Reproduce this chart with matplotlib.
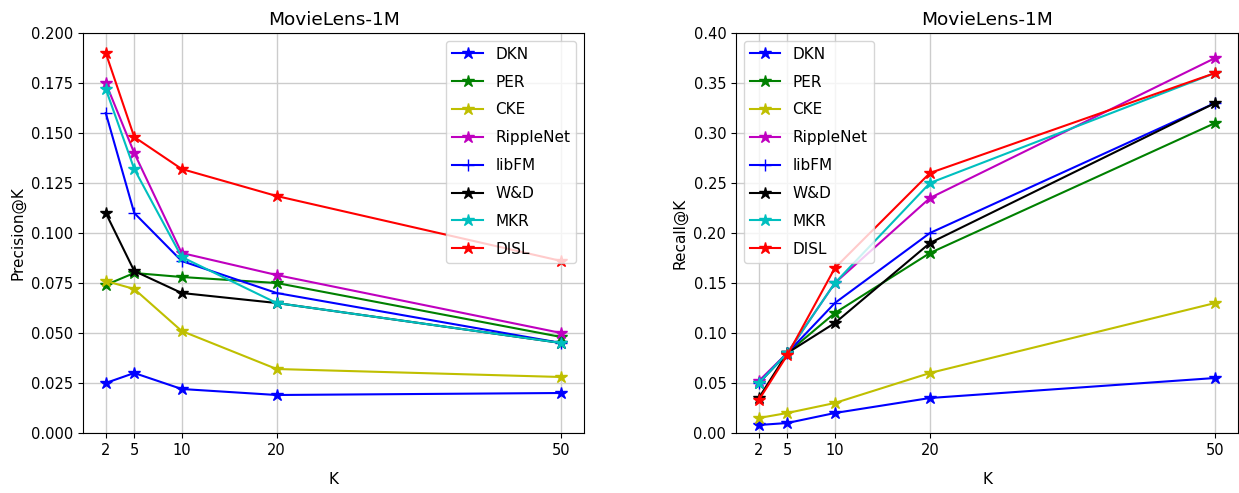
import matplotlib
matplotlib.use("Agg")
import matplotlib.pyplot as plt

K = [2, 5, 10, 20, 50]
models = ["DKN", "PER", "CKE", "RippleNet", "libFM", "W&D", "MKR", "DISL"]
colors = ["b", "g", "y", "m", "b", "k", "c", "r"]
markers = ["*", "*", "*", "*", "+", "*", "*", "*"]

precision_DKN = [0.025, 0.030, 0.022, 0.019, 0.020]
precision_PER = [0.074, 0.080, 0.078, 0.075, 0.048]
precision_CKE = [0.076, 0.072, 0.051, 0.032, 0.028]
precision_RippleNet = [0.175, 0.140, 0.090, 0.079, 0.050]
precision_libFM = [0.160, 0.110, 0.086, 0.070, 0.045]
precision_WD = [0.110, 0.081, 0.070, 0.065, 0.045]
precision_MKR = [0.172, 0.132, 0.088, 0.065, 0.045]
precision_DISL = [0.190, 0.148, 0.132, 0.1185, 0.086]

recall_DKN = [0.008, 0.010, 0.020, 0.035, 0.055]
recall_PER = [0.050, 0.080, 0.120, 0.180, 0.310]
recall_CKE = [0.015, 0.020, 0.030, 0.060, 0.130]
recall_RippleNet = [0.052, 0.080, 0.150, 0.235, 0.375]
recall_libFM = [0.050, 0.080, 0.130, 0.200, 0.330]
recall_WD = [0.035, 0.080, 0.110, 0.190, 0.330]
recall_MKR = [0.050, 0.080, 0.150, 0.250, 0.360]
recall_DISL = [0.033, 0.078, 0.165, 0.260, 0.360]

precision = [precision_DKN, precision_PER, precision_CKE, precision_RippleNet,
             precision_libFM, precision_WD, precision_MKR, precision_DISL]
recall = [recall_DKN, recall_PER, recall_CKE, recall_RippleNet,
          recall_libFM, recall_WD, recall_MKR, recall_DISL]

W, H = 1239, 493
fig = plt.figure(figsize=(W / 100, H / 100), dpi=100)
ax1 = fig.add_axes([83 / W, (H - 433) / H, 501 / W, 400 / H])
ax2 = fig.add_axes([736 / W, (H - 433) / H, 502 / W, 400 / H])

for ax, data, ylab, ymax, loc in [(ax1, precision, "Precision@K", 0.2, "upper right"),
                                  (ax2, recall, "Recall@K", 0.4, "upper left")]:
    for name, c, m, vals in zip(models, colors, markers, data):
        ax.plot(K, vals, color=c, marker=m, markersize=9, linewidth=1.5, label=name)
    ax.set_xticks(K)
    ax.set_ylim(0, ymax)
    ax.grid(True, color="#cccccc", linewidth=1)
    ax.set_axisbelow(True)
    ax.tick_params(labelsize=10.5)
    ax.set_xlabel("K", fontsize=11, labelpad=10)
    ax.set_ylabel(ylab, fontsize=11)
    ax.set_title("MovieLens-1M", fontsize=13.3)
    ax.legend(loc=loc, fontsize=11, labelspacing=0.84)

ax1.set_yticks([0.0, 0.025, 0.05, 0.075, 0.1, 0.125, 0.15, 0.175, 0.2])
ax1.set_yticklabels(["0.000", "0.025", "0.050", "0.075", "0.100", "0.125", "0.150", "0.175", "0.200"])
ax2.set_yticks([0.0, 0.05, 0.1, 0.15, 0.2, 0.25, 0.3, 0.35, 0.4])
ax2.set_yticklabels(["0.00", "0.05", "0.10", "0.15", "0.20", "0.25", "0.30", "0.35", "0.40"])

fig.savefig("out.png", dpi=100)
